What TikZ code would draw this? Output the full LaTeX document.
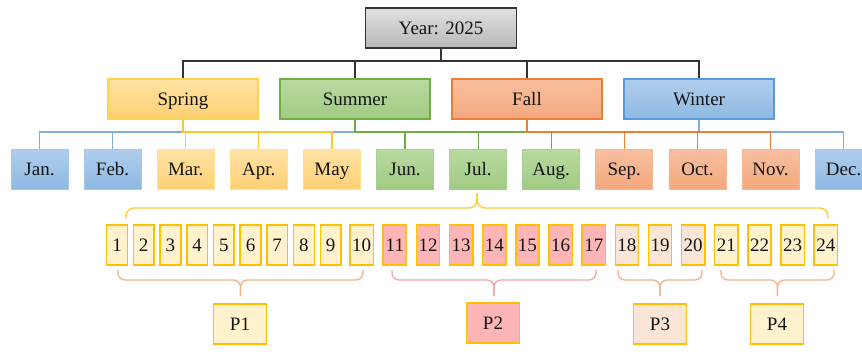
\documentclass[tikz,border=0pt]{standalone}
\usepackage{fontspec}
\setmainfont{Liberation Serif}
\definecolor{gold}{HTML}{FFC000}
\definecolor{yfill}{HTML}{FFF2CC}
\definecolor{pfill}{HTML}{FFB5B5}
\definecolor{efill}{HTML}{FBE5D6}
\definecolor{spB}{HTML}{FFC000}
\definecolor{suB}{HTML}{70AD47}
\definecolor{faB}{HTML}{ED7D31}
\definecolor{wiB}{HTML}{5B9BD5}
\definecolor{braceO}{HTML}{F4B183}
\definecolor{braceP}{HTML}{F4A3A3}
\definecolor{braceG}{HTML}{FFC82E}
\begin{document}
\begin{tikzpicture}[x=1pt,y=-1pt,
  box/.style={line width=1.3pt, inner sep=0pt, font=\fontsize{19}{21}\selectfont, text=black!92, text height=13.6pt, text depth=0pt},
  season/.style={box, minimum width=150pt, minimum height=40pt},
  month/.style={box, line width=0.8pt, minimum width=57pt, minimum height=40pt},
  sp/.style={draw=spB!70, top color={rgb,255:red,255;green,226;blue,165}, bottom color={rgb,255:red,255;green,208;blue,115}},
  su/.style={draw=suB, top color={rgb,255:red,184;green,218;blue,160}, bottom color={rgb,255:red,160;green,203;blue,131}},
  fa/.style={draw=faB, top color={rgb,255:red,248;green,192;blue,160}, bottom color={rgb,255:red,244;green,168;blue,126}},
  wi/.style={draw=wiB, top color={rgb,255:red,176;green,206;blue,236}, bottom color={rgb,255:red,143;green,184;blue,226}},
  spm/.style={sp, draw=spB!45},
  sum/.style={su, draw=suB!60},
  fam/.style={fa, draw=faB!55},
  wim/.style={wi, draw=wiB!55},
  num/.style={box, draw=gold, line width=1.5pt},
  yb/.style={fill=yfill}, pb/.style={fill=pfill}, eb/.style={fill=efill},
  conn/.style={line width=1.2pt},
  brace/.style={line width=1.3pt, rounded corners=8pt}
]
\clip (0,0) rectangle (862,360);
\fill[white] (0,0) rectangle (862,360);

% top
\node[box, line width=1.6pt, draw=black!80, top color=black!12, bottom color=black!28, minimum width=151pt, minimum height=40pt] (year) at (441,28) {Year: 2025};
\node[season, sp] (spring) at (183,99) {Spring};
\node[season, su] (summer) at (355,99) {Summer};
\node[season, fa] (fall) at (527,99) {Fall};
\node[season, wi] (winter) at (699,99) {Winter};

% months
\foreach \n/\t/\c [count=\i from 0] in {jan/Jan./wim, feb/Feb./wim, mar/Mar./spm, apr/Apr./spm, may/May/spm, jun/Jun./sum, jul/Jul./sum, aug/Aug./sum, sep/Sep./fam, oct/Oct./fam, nov/Nov./fam, dec/Dec./wim}
  \node[month, \c] (\n) at ({39.5+73.1*\i},169) {\t};

\coordinate (ht) at (0,61);
\coordinate (hb) at (0,132);

% year connectors
\draw[conn, black!80] (year.south) -- (year.south |- ht);
\draw[conn, black!80] (spring.north) -- (spring.north |- ht) -- (winter.north |- ht) -- (winter.north);
\draw[conn, black!80] (summer.north) -- (summer.north |- ht);
\draw[conn, black!80] (fall.north) -- (fall.north |- ht);

% season connectors
\draw[conn, wiB!80] (jan.north) -- (jan.north |- hb) -- (dec.north |- hb) -- (dec.north);
\draw[conn, wiB!80] (feb.north) -- (feb.north |- hb);
\draw[conn, wiB!80] (winter.south) -- (winter.south |- hb);
\draw[conn, suB] (summer.south) -- (summer.south |- hb) -- (aug.north |- hb) -- (aug.north);
\draw[conn, suB] (jun.north) -- (jun.north |- hb);
\draw[conn, suB] (jul.north) -- (jul.north |- hb);
\draw[conn, spB!85] (spring.south) -- (spring.south |- hb) -- (may.north |- hb) -- (may.north);
\draw[conn, spB!85] (mar.north) -- (mar.north |- hb);
\draw[conn, spB!85] (apr.north) -- (apr.north |- hb);
\draw[conn, faB] (fall.south) -- (fall.south |- hb) -- (nov.north |- hb) -- (nov.north);
\draw[conn, faB] (sep.north) -- (sep.north |- hb);
\draw[conn, faB] (oct.north) -- (oct.north |- hb);

% number boxes
\foreach \i in {1,...,9}
  \node[num, yb, minimum width=20.7pt, minimum height=40pt] (n\i) at ({117+26.7*(\i-1)},245) {\i};
\foreach \i/\s in {10/yb,11/pb,12/pb,13/pb,14/pb,15/pb,16/pb,17/pb,18/eb,19/eb,20/eb,21/yb,22/yb,23/yb,24/yb}
  \node[num, \s, minimum width=23.3pt, minimum height=40pt] (n\i) at ({361.7+33.15*(\i-10)},245) {\i};

% big brace
\draw[brace, braceG] (126,218) -- (126,208) -- (477,208) -- (477,193);
\draw[brace, braceG] (828,218) -- (828,208) -- (477,208) -- (477,193);

% lower braces
\foreach \a/\b/\m/\c in {118/363/240.5/braceO, 392/596/494/braceP, 618/702/660/braceO, 721/834/777.5/braceO}{
  \draw[brace, rounded corners=7pt, \c] (\a,270) -- (\a,280) -- (\m,280) -- (\m,296);
  \draw[brace, rounded corners=7pt, \c] (\b,270) -- (\b,280) -- (\m,280) -- (\m,296);
}

% P boxes
\node[num, yb, minimum width=53pt, minimum height=40pt] (p1) at (240,324) {P1};
\node[num, pb, minimum width=53pt, minimum height=40pt] (p2) at (493,323) {P2};
\node[num, eb, minimum width=53pt, minimum height=40pt] (p3) at (660,324) {P3};
\node[num, yb, minimum width=53pt, minimum height=40pt] (p4) at (777,324) {P4};
\end{tikzpicture}
\end{document}
